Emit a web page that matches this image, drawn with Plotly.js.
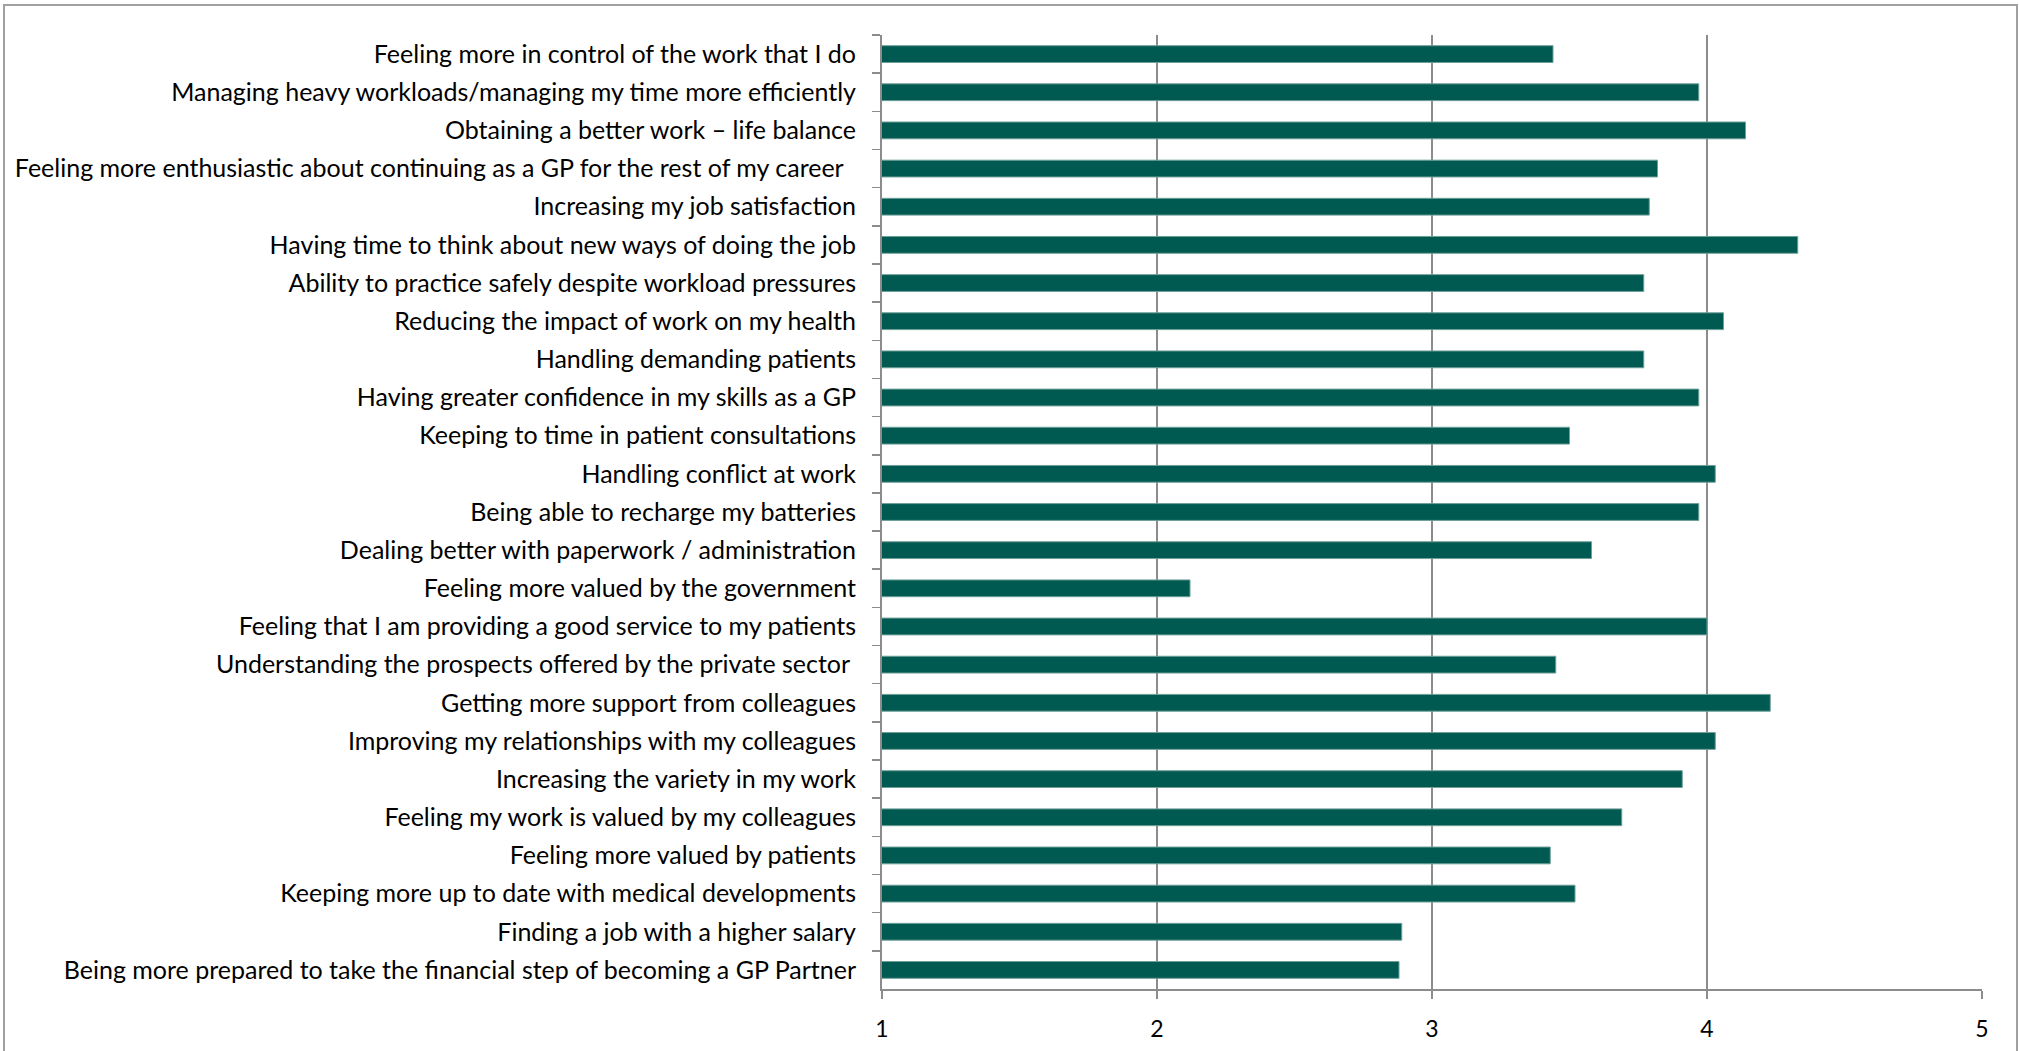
<!DOCTYPE html>
<html>
<head>
<meta charset="utf-8">
<script src="https://cdn.plot.ly/plotly-3.0.1.min.js"></script>
<style>
  html, body { margin: 0; padding: 0; background: #ffffff; }
  #chart { width: 2019px; height: 1051px; }
</style>
</head>
<body>
<div id="chart"></div>
<script>
// Categories, top to bottom as shown
const categories = [
  "Feeling more in control of the work that I do",
  "Managing heavy workloads/managing my time more efficiently",
  "Obtaining a better work \u2013 life balance",
  "Feeling more enthusiastic about continuing as a GP for the rest of my career\u00a0\u00a0",
  "Increasing my job satisfaction",
  "Having time to think about new ways of doing the job",
  "Ability to practice safely despite workload pressures",
  "Reducing the impact of work on my health",
  "Handling demanding patients",
  "Having greater confidence in my skills as a GP",
  "Keeping to time in patient consultations",
  "Handling conflict at work",
  "Being able to recharge my batteries",
  "Dealing better with paperwork / administration",
  "Feeling more valued by the government",
  "Feeling that I am providing a good service to my patients",
  "Understanding the prospects offered by the private sector\u00a0",
  "Getting more support from colleagues",
  "Improving my relationships with my colleagues",
  "Increasing the variety in my work",
  "Feeling my work is valued by my colleagues",
  "Feeling more valued by patients",
  "Keeping more up to date with medical developments",
  "Finding a job with a higher salary",
  "Being more prepared to take the financial step of becoming a GP Partner"
];

// Mean scores
const scores = [
  3.44, 3.97, 4.14, 3.82, 3.79, 4.33, 3.77, 4.06, 3.77, 3.97,
  3.50, 4.03, 3.97, 3.58, 2.12, 4.00, 3.45, 4.23, 4.03, 3.91,
  3.69, 3.43, 3.52, 2.89, 2.88
];

const xTickValues = [1, 2, 3, 4, 5];
const xTickLabels = ["1", "2", "3", "4", "5"];

const W = 2019, H = 1051;
const mL = 882, mR = 37, mT = 35, mB = 62;
const pw = W - mL - mR, ph = H - mT - mB;
const px = v => (v - mL) / pw;
const py = v => (H - mB - v) / ph;

const trace = {
  type: "bar",
  orientation: "h",
  y: categories,
  x: scores,
  marker: { color: "#005A51", line: { color: "#6E9F99", width: 1 } },
  hoverinfo: "x+y"
};

const gray = "#8C8C8C";
const layout = {
  width: W, height: H,
  margin: { l: mL, r: mR, t: mT, b: mB, pad: 0 },
  paper_bgcolor: "#ffffff",
  plot_bgcolor: "#ffffff",
  showlegend: false,
  bargap: 0.56,
  font: { family: "Lato, 'Noto Sans', sans-serif", color: "#000000", size: 24 },
  xaxis: {
    range: [1, 5],
    tickvals: xTickValues,
    ticktext: xTickLabels,
    showgrid: true, gridcolor: gray, gridwidth: 1.5,
    zeroline: false,
    showline: true, linecolor: gray, linewidth: 2,
    ticks: "outside", ticklen: 8, tickcolor: gray, tickwidth: 1.5,
    tickfont: { size: 23, family: "Lato, sans-serif" },
    ticklabelstandoff: 10,
    fixedrange: true
  },
  yaxis: {
    type: "category",
    categoryorder: "array",
    categoryarray: categories,
    autorange: "reversed",
    showgrid: false,
    zeroline: false,
    showline: true, linecolor: gray, linewidth: 2,
    ticks: "outside", ticklen: 8, tickcolor: gray, tickwidth: 1.5,
    tickson: "boundaries",
    ticklabelstandoff: 19,
    tickfont: { size: 25, family: "Lato, sans-serif" },
    fixedrange: true
  },
  shapes: [
    { type: "rect", xref: "paper", yref: "paper",
      x0: px(4), x1: px(2017), y0: py(1060), y1: py(5),
      line: { color: "#A0A0A0", width: 2 }, fillcolor: "rgba(0,0,0,0)", layer: "below" }
  ]
};

Plotly.newPlot("chart", [trace], layout, { displayModeBar: false, staticPlot: true });
</script>
</body>
</html>
